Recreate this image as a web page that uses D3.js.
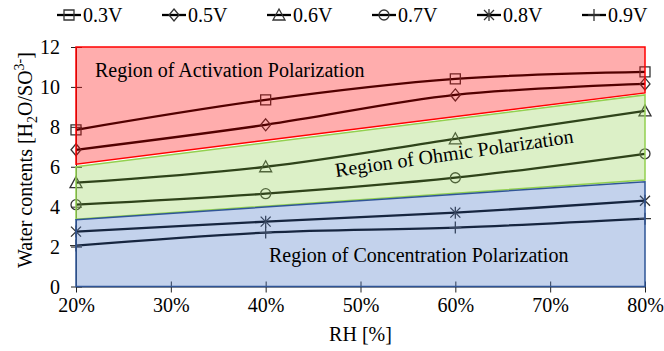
<!DOCTYPE html>
<html>
<head>
<meta charset="utf-8">
<script src="https://cdn.jsdelivr.net/npm/d3@7"></script>
<style>
  html, body { margin: 0; padding: 0; background: #fff; }
  svg { display: block; }
  svg text { font-family: "Liberation Serif", "Times New Roman", "DejaVu Serif", serif !important; fill: #000; }
</style>
</head>
<body>
<svg id="chart" width="664" height="351"></svg>
<script>
// Relative humidity (%) at which water content was measured
const rhValues = [20, 40, 60, 80];
const rhTicks = [20, 30, 40, 50, 60, 70, 80];
const yTicks = [0, 2, 4, 6, 8, 10, 12];

// Series: cell voltage
const seriesNames = ["0.3V", "0.5V", "0.6V", "0.7V", "0.8V", "0.9V"];
const markerTypes = ["square", "diamond", "triangle", "circle", "star", "plus"];
const water03 = [7.85, 9.35, 10.4, 10.75];
const water05 = [6.85, 8.1, 9.6, 10.15];
const water06 = [5.2, 6.0, 7.4, 8.8];
const water07 = [4.1, 4.65, 5.45, 6.65];
const water08 = [2.75, 3.25, 3.7, 4.3];
const water09 = [2.05, 2.7, 2.95, 3.4];
const seriesValues = [water03, water05, water06, water07, water08, water09];

// Polarization region boundaries at RH 20% and 80%
const regionRH = [20, 80];
const activationLower = [6.13, 9.7];
const ohmicUpper = [6.0, 9.6];
const ohmicLower = [3.37, 5.33];
const concentrationUpper = [3.35, 5.25];
const yMin = 0, yMax = 12;

const regionLabels = [
  "Region of Activation Polarization",
  "Region of Ohmic Polarization",
  "Region of Concentration Polarization"
];

const FONT = '"Liberation Serif", "Times New Roman", "DejaVu Serif", serif';

const svg = d3.select("#chart");
const margin = { left: 76, right: 19, top: 47, bottom: 65 };
const W = 664, H = 351;

const x = d3.scaleLinear().domain([20, 80]).range([margin.left, W - margin.right]);
const y = d3.scaleLinear().domain([yMin, yMax]).range([H - margin.bottom + 0.5, margin.top]);

// Axes with ticks crossing the axis line
const xAxis = d3.axisBottom(x).tickValues(rhTicks).tickSize(0).tickFormat(d => d + "%");
const gx = svg.append("g").attr("transform", `translate(0,${y(0)})`).call(xAxis)
  .attr("font-family", FONT).attr("font-size", 20);
gx.select(".domain").attr("stroke", "#222").attr("stroke-width", 1);
gx.selectAll(".tick line").remove();
gx.selectAll(".tick").append("line")
  .attr("y1", -5).attr("y2", 6).attr("stroke", "#222").attr("stroke-width", 1);
gx.selectAll(".tick text")
  .attr("y", 11).attr("dy", "0.71em").attr("fill", "#000");

const yAxis = d3.axisLeft(y).tickValues(yTicks).tickSize(0);
const gy = svg.append("g").attr("transform", `translate(${x(20)},0)`).call(yAxis)
  .attr("font-family", FONT).attr("font-size", 20);
gy.select(".domain").attr("stroke", "#222").attr("stroke-width", 1);
gy.selectAll(".tick line").remove();
gy.selectAll(".tick").append("line")
  .attr("x1", -5).attr("x2", 6).attr("stroke", "#222").attr("stroke-width", 1);
gy.selectAll(".tick text")
  .attr("x", -16).attr("dy", "0.34em").attr("fill", "#000");

// Smoothed series lines
const line = d3.line()
  .x((d, i) => x(rhValues[i]))
  .y(d => y(d))
  .curve(d3.curveCardinal.tension(0));

const plot = svg.append("g");
seriesValues.forEach(vals => {
  plot.append("path")
    .attr("d", line(vals))
    .attr("fill", "none")
    .attr("stroke", "#000")
    .attr("stroke-width", 2.3);
});

// Marker shapes centred at origin
function markerPath(type) {
  const p = d3.path();
  const s = 5;
  switch (type) {
    case "square":
      p.rect(-s, -s, 2 * s, 2 * s); break;
    case "diamond":
      p.moveTo(0, -s - 1); p.lineTo(s, 0); p.lineTo(0, s + 1); p.lineTo(-s, 0); p.closePath(); break;
    case "triangle":
      p.moveTo(0, -s - 1); p.lineTo(s + 1, s); p.lineTo(-s - 1, s); p.closePath(); break;
    case "circle":
      p.arc(0, 0, s, 0, 2 * Math.PI); break;
    case "star":
      p.moveTo(-s, -s); p.lineTo(s, s); p.moveTo(s, -s); p.lineTo(-s, s);
      p.moveTo(0, -s - 1); p.lineTo(0, s + 1); break;
    case "plus":
      p.moveTo(-s - 1, 0); p.lineTo(s + 1, 0); p.moveTo(0, -s - 1); p.lineTo(0, s + 1); break;
  }
  return p.toString();
}

seriesValues.forEach((vals, si) => {
  plot.selectAll(null)
    .data(vals)
    .join("path")
    .attr("transform", (d, i) => `translate(${x(rhValues[i])},${y(d)})`)
    .attr("d", markerPath(markerTypes[si]))
    .attr("fill", "none")
    .attr("stroke", "#333")
    .attr("stroke-width", 1.3);
});

// Translucent polarization regions
const regions = [
  { upper: [yMax, yMax], lower: activationLower, fill: "#ff0000", stroke: "#ff0000" },
  { upper: ohmicUpper, lower: ohmicLower, fill: "#92d050", stroke: "#92d050" },
  { upper: concentrationUpper, lower: [yMin, yMin], fill: "#4472c4", stroke: "#2f5597" }
];
const area = d3.area()
  .x((d, i) => x(regionRH[i]))
  .y0(d => y(d[1]))
  .y1(d => y(d[0]));
regions.forEach(r => {
  const pts = regionRH.map((_, i) => [r.upper[i], r.lower[i]]);
  svg.append("path")
    .attr("d", area(pts))
    .attr("fill", r.fill)
    .attr("fill-opacity", 0.32)
    .attr("stroke", r.stroke)
    .attr("stroke-width", 1.5);
});

// Region labels
const labels = svg.append("g").attr("font-family", FONT).attr("font-size", 20);
labels.append("text").attr("x", 95).attr("y", 77).text(regionLabels[0]);
labels.append("text").attr("transform", "translate(336,177) rotate(-8.2)").text(regionLabels[1]);
labels.append("text").attr("x", 269).attr("y", 262).text(regionLabels[2]);

// Axis titles
labels.append("text").attr("x", x(50)).attr("y", 341).attr("text-anchor", "middle").text("RH [%]");

const yTitle = labels.append("text")
  .attr("transform", `translate(32,160) rotate(-90)`)
  .attr("text-anchor", "middle");
yTitle.append("tspan").text("Water contents [H");
yTitle.append("tspan").attr("dy", 5).attr("font-size", 14).text("2");
yTitle.append("tspan").attr("dy", -5).text("O/SO");
yTitle.append("tspan").attr("dy", -8).attr("font-size", 14).text("3-");
yTitle.append("tspan").attr("dy", 8).text("]");

// Legend
const legendX0 = 57, legendStep = 105, legendY = 15;
const legend = svg.append("g").attr("font-family", FONT).attr("font-size", 20);
seriesNames.forEach((name, i) => {
  const g = legend.append("g").attr("transform", `translate(${legendX0 + i * legendStep},${legendY})`);
  g.append("line").attr("x1", 0).attr("x2", 24).attr("stroke", "#000").attr("stroke-width", 2.3);
  g.append("path").attr("transform", "translate(12,0)")
    .attr("d", markerPath(markerTypes[i]))
    .attr("fill", "none").attr("stroke", "#333").attr("stroke-width", 1.3);
  g.append("text").attr("x", 26).attr("dy", "0.34em").text(name);
});
</script>
</body>
</html>
